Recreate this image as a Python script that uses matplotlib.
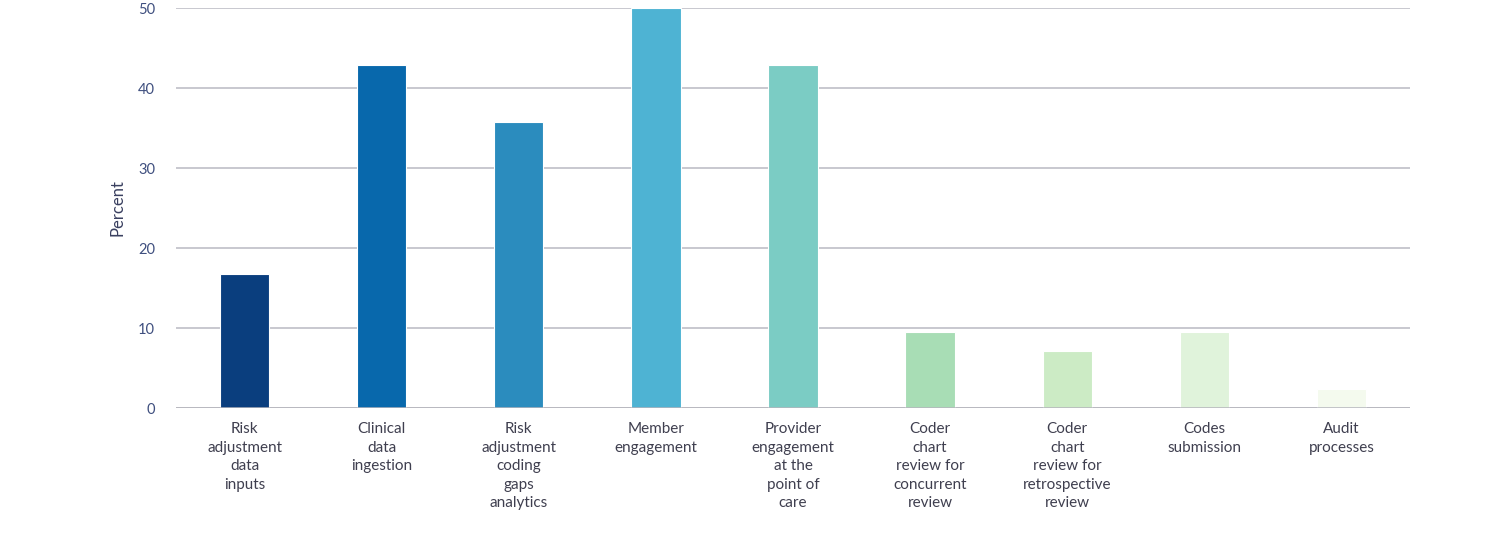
import matplotlib
matplotlib.use('Agg')
import matplotlib.pyplot as plt

plt.rcParams['font.family'] = ['Lato', 'DejaVu Sans']

# data
categories = ['Risk\nadjustment\ndata\ninputs', 'Clinical\ndata\ningestion',
              'Risk\nadjustment\ncoding\ngaps\nanalytics', 'Member\nengagement',
              'Provider\nengagement\nat the\npoint of\ncare',
              'Coder\nchart\nreview for\nconcurrent\nreview',
              'Coder\nchart\nreview for\nretrospective\nreview',
              'Codes\nsubmission', 'Audit\nprocesses']
percent = [16.7, 42.9, 35.7, 50.0, 42.9, 9.5, 7.1, 9.5, 2.4]
colors = ['#0a3e7e', '#0868ac', '#2b8cbe', '#4eb3d3', '#7bccc4',
          '#a8ddb5', '#ccebc5', '#e0f3db', '#f4faee']
yticks = [0, 10, 20, 30, 40, 50]

fig = plt.figure(figsize=(15.07, 5.47), dpi=100)
ax = fig.add_axes([176 / 1507, (547 - 408) / 547, 1234 / 1507, 400 / 547])

x = list(range(len(categories)))
ax.bar(x, percent, width=0.36, color=colors, edgecolor='white', linewidth=0.8, zorder=3)

ax.set_xlim(-0.5, len(categories) - 0.5)
ax.set_ylim(0, 50)
ax.set_yticks(yticks)
ax.yaxis.grid(True, color='#c4c4cc', linewidth=1.3, zorder=0)
ax.axhline(0, color='#b4b4bc', linewidth=1.8, zorder=4)

for s in ax.spines.values():
    s.set_visible(False)

ax.set_xticks(x)
ax.set_xticklabels(categories, fontsize=11, color='#3f3f4f', linespacing=1.42)
ax.tick_params(axis='x', length=0, pad=10)
ax.tick_params(axis='y', length=0, pad=15, labelsize=10.5, labelcolor='#3f4f7f')

ax.set_ylabel('Percent', fontsize=12, color='#3a4060', labelpad=9)

fig.savefig('out.png', dpi=100)
